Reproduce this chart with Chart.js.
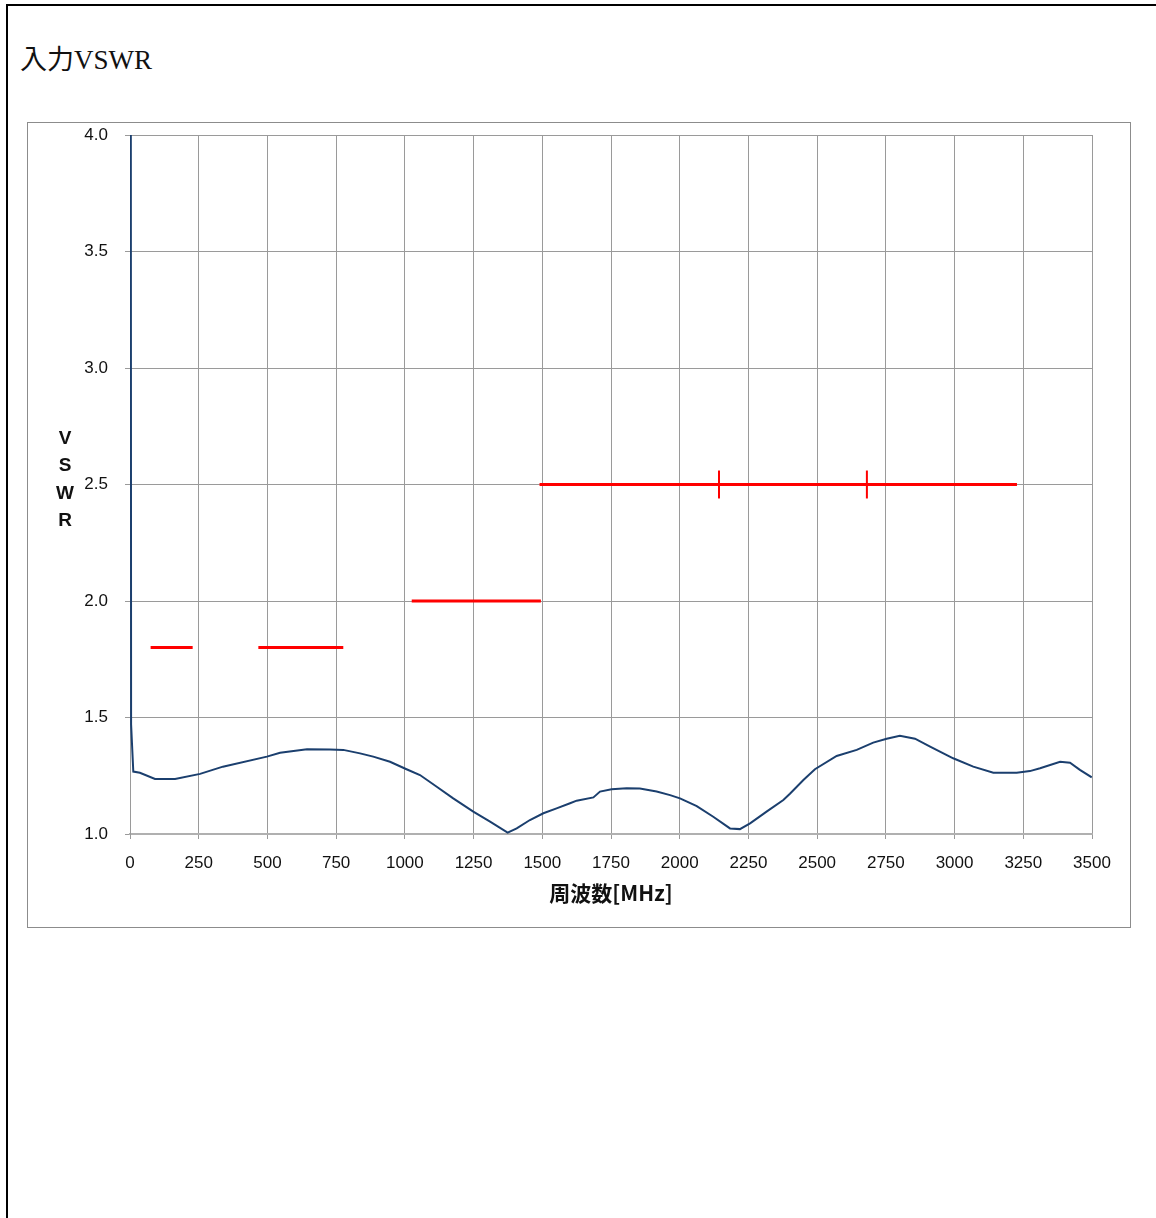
<!DOCTYPE html>
<html lang="ja">
<head>
<meta charset="utf-8">
<title>入力VSWR</title>
<script src="https://cdn.jsdelivr.net/npm/chart.js@4.4.1/dist/chart.umd.min.js"></script>
<style>
  html, body { margin: 0; padding: 0; background: #fff; }
  body { width: 1156px; height: 1218px; position: relative; overflow: hidden; }
  .page-frame {
    position: absolute; left: 6px; top: 4px; width: 1200px; height: 1300px;
    border-top: 2px solid #000; border-left: 2px solid #000;
  }
  .page-title {
    position: absolute; left: 20px; top: 47px;
    font-family: 'Liberation Serif', 'DejaVu Serif', 'Noto Sans CJK JP', serif;
    font-size: 27px; line-height: 1; color: #111;
  }
  .chart-box {
    position: absolute; left: 27px; top: 122px; width: 1104px; height: 806px;
    box-sizing: border-box; border: 1px solid #8c8c8c; background: #fff;
  }
  .y-title {
    position: absolute; left: 55px; top: 424px; width: 20px;
    font-family: 'Liberation Sans', Arial, sans-serif; font-weight: bold;
    font-size: 19px; line-height: 27.3px; text-align: center; color: #111;
  }
</style>
</head>
<body>
<div class="page-frame"></div>
<div class="page-title">入力VSWR</div>
<div class="chart-box"><canvas id="vswr-chart"></canvas></div>
<div class="y-title">V<br>S<br>W<br>R</div>

<script>
const freqMHz = [3, 4, 12, 36, 91, 164, 255, 338, 498, 546, 644, 727,
  776, 837, 885, 946, 1004, 1055, 1116, 1176, 1249, 1310, 1374, 1407, 1455,
  1504, 1552, 1601, 1625, 1686, 1710, 1752, 1807, 1855, 1916, 1965, 2001,
  2062, 2122, 2183, 2219, 2256, 2316, 2377, 2401, 2450, 2492, 2571, 2644,
  2704, 2753, 2801, 2856, 2911, 2995, 3068, 3141, 3226, 3274, 3311, 3384,
  3420, 3456, 3499];
const vswr = [4.0, 1.47, 1.268, 1.263, 1.236, 1.236, 1.258, 1.289, 1.332, 1.349, 1.364, 1.363,
  1.361, 1.346, 1.332, 1.310, 1.279, 1.253, 1.203, 1.153, 1.096, 1.053, 1.006, 1.024, 1.060,
  1.089, 1.110, 1.132, 1.143, 1.157, 1.182, 1.192, 1.196, 1.195, 1.182, 1.167, 1.153,
  1.120, 1.074, 1.024, 1.021, 1.046, 1.096, 1.146, 1.173, 1.232, 1.278, 1.335, 1.361,
  1.392, 1.409, 1.422, 1.409, 1.375, 1.325, 1.289, 1.263, 1.263, 1.270, 1.282, 1.310,
  1.306, 1.275, 1.243];

// spec limit segments (red)
const specStart = [75, 467, 1025, 1490];
const specEnd   = [228, 776, 1495, 3227];
const specLimit = [1.8, 1.8, 2.0, 2.5];

// band markers on the 2.5 line
const markerFreq = [2143, 2681];
const markerLow  = 2.44;
const markerHigh = 2.56;

const xTicks = [0, 250, 500, 750, 1000, 1250, 1500, 1750, 2000, 2250, 2500, 2750, 3000, 3250, 3500];
const yTicks = [1.0, 1.5, 2.0, 2.5, 3.0, 3.5, 4.0];

const GRID = '#9a9a9a';
const TRACE = '#1b3f6e';
const RED = '#ff0000';

Chart.defaults.font.family = "'Liberation Sans', Arial, sans-serif";
Chart.defaults.color = '#111';

const datasets = [];

specStart.forEach((s, i) => {
  datasets.push({
    data: [{ x: s, y: specLimit[i] }, { x: specEnd[i], y: specLimit[i] }],
    showLine: true, borderColor: RED, borderWidth: 3, pointRadius: 0,
  });
});

markerFreq.forEach(f => {
  datasets.push({
    data: [{ x: f, y: markerLow }, { x: f, y: markerHigh }],
    showLine: true, borderColor: RED, borderWidth: 2, pointRadius: 0,
  });
});

datasets.push({
  data: freqMHz.map((f, i) => ({ x: f, y: vswr[i] })),
  showLine: true, borderColor: TRACE, borderWidth: 2, pointRadius: 0, tension: 0,
});

new Chart(document.getElementById('vswr-chart'), {
  type: 'scatter',
  data: { datasets },
  options: {
    responsive: true,
    maintainAspectRatio: false,
    animation: false,
    layout: { padding: { top: 12, right: 38, left: 0, bottom: 0 } },
    plugins: { legend: { display: false }, tooltip: { enabled: false } },
    scales: {
      x: {
        type: 'linear', min: 0, max: 3500,
        afterBuildTicks: axis => { axis.ticks = xTicks.map(v => ({ value: v })); },
        afterFit: axis => { axis.height = 93; },
        grid: { color: GRID, tickColor: GRID, tickLength: 5, lineWidth: 1 },
        border: { color: '#b0b0b0', width: 2 },
        ticks: { font: { size: 17 }, padding: 14, maxRotation: 0, color: '#111', callback: v => String(v) },
        title: {
          display: true, text: '周波数[MHz]', color: '#111',
          font: { family: "'Noto Sans CJK JP', 'Liberation Sans', sans-serif", size: 21, weight: 'bold' },
          padding: { top: 4, bottom: 21 },
        },
      },
      y: {
        type: 'linear', min: 1, max: 4,
        afterBuildTicks: axis => { axis.ticks = yTicks.map(v => ({ value: v })); },
        afterFit: axis => { axis.width = 102; axis.paddingTop = 0; axis.paddingBottom = 0; },
        grid: { color: GRID, tickColor: GRID, tickLength: 5, lineWidth: 1 },
        border: { color: GRID, width: 1 },
        ticks: { font: { size: 17 }, padding: 17, color: '#111', callback: v => v.toFixed(1) },
      },
    },
  },
});
</script>
</body>
</html>
